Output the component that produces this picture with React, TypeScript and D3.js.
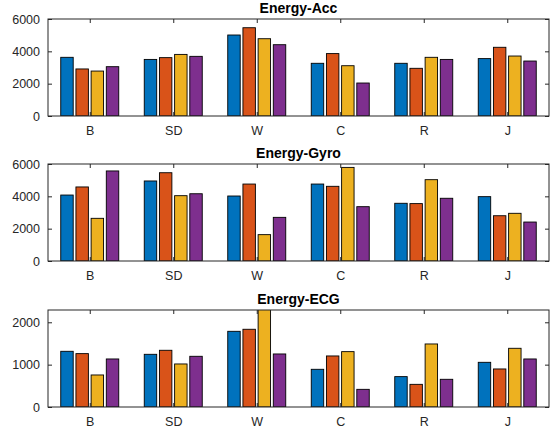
import React, { useEffect, useRef } from "react";
import * as d3 from "d3";

const categories = ["B", "SD", "W", "C", "R", "J"];
const seriesColors = ["#0072BD", "#D95319", "#EDB120", "#7E2F8E"];

// each row: one category, four series
const accValues = [
  [3630, 2910, 2780, 3050],
  [3500, 3610, 3810, 3690],
  [5010, 5460, 4780, 4410],
  [3260, 3860, 3110, 2040],
  [3260, 2950, 3630, 3500],
  [3550, 4250, 3710, 3400],
];
const gyroValues = [
  [4080, 4580, 2640, 5570],
  [4950, 5460, 4040, 4160],
  [4020, 4760, 1630, 2700],
  [4760, 4620, 5790, 3360],
  [3570, 3550, 5030, 3880],
  [3980, 2800, 2950, 2410],
];
const ecgValues = [
  [1315, 1260, 756, 1134],
  [1244, 1339, 1016, 1197],
  [1787, 1835, 2450, 1252],
  [890, 1205, 1307, 417],
  [717, 535, 1488, 654],
  [1055, 898, 1386, 1134],
];

const titles = ["Energy-Acc", "Energy-Gyro", "Energy-ECG"];
const yMax = [6000, 6000, 2290];
const yTicks = [
  [0, 2000, 4000, 6000],
  [0, 2000, 4000, 6000],
  [0, 1000, 2000],
];

const App = () => {
  const ref = useRef<SVGSVGElement>(null);

  useEffect(() => {
    const width = 554;
    const height = 428;
    const left = 48;
    const right = 549;
    const tops = [19, 164, 310];
    const panelH = 97;
    const font = "'Liberation Sans', Arial, Helvetica, sans-serif";
    const axisColor = "#262626";

    const svg = d3.select(ref.current).attr("width", width).attr("height", height);
    svg.selectAll("*").remove();
    svg.append("rect").attr("width", width).attr("height", height).attr("fill", "#fff");

    const allData = [accValues, gyroValues, ecgValues];

    const x = d3.scaleLinear().domain([0.5, 6.5]).range([left, right]);
    const nSeries = 4;
    const groupW = Math.min(0.8, nSeries / (nSeries + 1.5));
    const pitch = groupW / nSeries;
    const barW = pitch * 0.82;

    allData.forEach((data, p) => {
      const top = tops[p];
      const bottom = top + panelH;
      const y = d3.scaleLinear().domain([0, yMax[p]]).range([bottom, top]);

      const clipId = `clip${p}`;
      svg
        .append("clipPath")
        .attr("id", clipId)
        .append("rect")
        .attr("x", left)
        .attr("y", top)
        .attr("width", right - left)
        .attr("height", panelH);

      const g = svg.append("g").attr("clip-path", `url(#${clipId})`);

      data.forEach((row, i) => {
        row.forEach((v, s) => {
          const cx = i + 1 - groupW / 2 + pitch * (s + 0.5);
          g.append("rect")
            .attr("x", x(cx - barW / 2))
            .attr("y", y(v))
            .attr("width", x(cx + barW / 2) - x(cx - barW / 2))
            .attr("height", y(0) - y(v))
            .attr("fill", seriesColors[s])
            .attr("stroke", "#000")
            .attr("stroke-width", 0.9);
        });
      });

      const tickStyle = (sel: any) => {
        sel.select(".domain").remove();
        sel.selectAll("line").attr("stroke", axisColor);
        sel.selectAll("text").attr("fill", axisColor).style("font-family", font).style("font-size", "12.5px");
      };

      // bottom axis
      const xb = svg
        .append("g")
        .attr("transform", `translate(0,${bottom})`)
        .call(
          d3
            .axisBottom(x)
            .tickValues(d3.range(1, 7))
            .tickFormat((d: any) => categories[d - 1])
            .tickSizeInner(-4)
            .tickSizeOuter(0)
            .tickPadding(10)
        );
      tickStyle(xb);

      // top ticks
      const xt = svg
        .append("g")
        .attr("transform", `translate(0,${top})`)
        .call(d3.axisTop(x).tickValues(d3.range(1, 7)).tickFormat(() => "").tickSizeInner(-4).tickSizeOuter(0));
      tickStyle(xt);

      // left axis
      const yl = svg
        .append("g")
        .attr("transform", `translate(${left},0)`)
        .call(d3.axisLeft(y).tickValues(yTicks[p]).tickFormat(d3.format("d")).tickSizeInner(-4).tickSizeOuter(0).tickPadding(8));
      tickStyle(yl);

      // right ticks
      const yr = svg
        .append("g")
        .attr("transform", `translate(${right},0)`)
        .call(d3.axisRight(y).tickValues(yTicks[p]).tickFormat(() => "").tickSizeInner(-4).tickSizeOuter(0));
      tickStyle(yr);

      // box
      svg
        .append("rect")
        .attr("x", left)
        .attr("y", top)
        .attr("width", right - left)
        .attr("height", panelH)
        .attr("fill", "none")
        .attr("stroke", axisColor)
        .attr("stroke-width", 1);

      svg
        .append("text")
        .attr("x", (left + right) / 2)
        .attr("y", top - 6)
        .attr("text-anchor", "middle")
        .attr("fill", "#000")
        .style("font-family", font)
        .style("font-size", "14px")
        .style("font-weight", "bold")
        .text(titles[p]);
    });
  }, []);

  return <svg ref={ref} style={{ position: "absolute", left: 0, top: 0 }}></svg>;
};

export default App;
